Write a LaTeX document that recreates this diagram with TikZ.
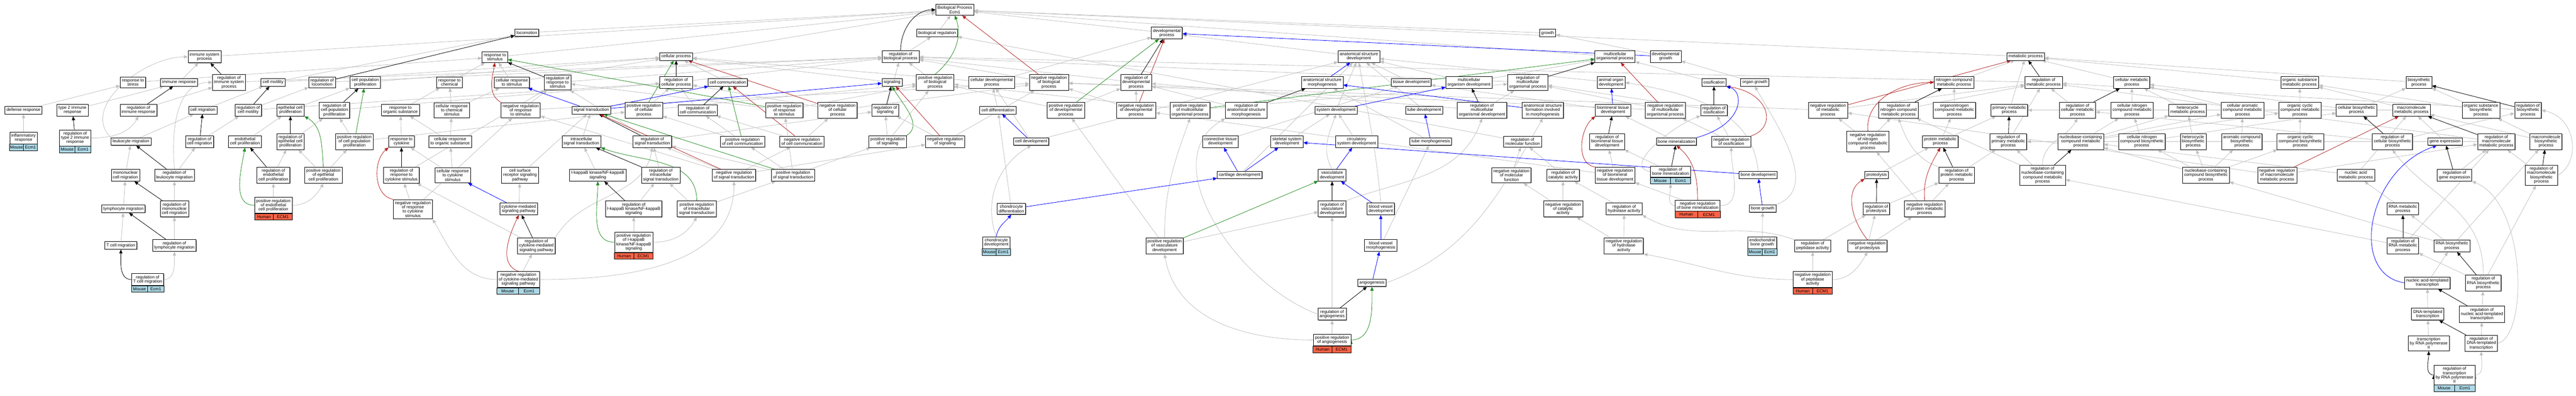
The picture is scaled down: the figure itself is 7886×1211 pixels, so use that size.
\documentclass[tikz,border=0pt]{standalone}
\usepackage{fontspec}
\setmainfont{Liberation Sans}
\usetikzlibrary{arrows.meta,calc,shadows,backgrounds}
\definecolor{isagrey}{RGB}{192,192,192}
\definecolor{posgreen}{RGB}{34,139,34}
\definecolor{negred}{RGB}{178,34,34}
\definecolor{partblue}{RGB}{0,0,255}
\definecolor{mouse}{RGB}{173,216,230}
\definecolor{human}{RGB}{255,99,71}
\tikzstyle{term}=[draw, line width=1.2pt, fill=white, align=center, inner xsep=5pt, inner ysep=5.5pt, minimum height=23pt, font=\fontsize{13}{13}\selectfont, drop shadow={shadow xshift=1.3pt, shadow yshift=-1.3pt, fill=black!45, opacity=1}]
\tikzstyle{cellbox}=[draw, line width=1.2pt]
\tikzstyle{celltext}=[font=\fontsize{13}{13}\selectfont, inner sep=0pt]
\tikzstyle{link}=[line width=1.3pt, -{Triangle[length=12pt,width=10pt]}]
\tikzstyle{isa}=[link, isagrey]
\tikzstyle{reg}=[link, black]
\tikzstyle{posreg}=[link, posgreen]
\tikzstyle{negreg}=[link, negred]
\tikzstyle{partof}=[link, partblue]
\newcommand{\term}{\node[term]}
\newcommand{\generow}[4]{%
  \draw[cellbox, fill=#4] (#1.south west) rectangle ([yshift=-20pt]#1.south);
  \draw[cellbox, fill=#4] (#1.south) rectangle ([yshift=-20pt]#1.south east);
  \node[celltext] at ($(#1.south west)!0.5!(#1.south)+(0,-10)$) {#2};
  \node[celltext] at ($(#1.south)!0.5!(#1.south east)+(0,-10)$) {#3};}

\begin{document}
\begin{tikzpicture}[x=1pt,y=1pt]
\useasboundingbox (0,0) rectangle (7886,-1211);

% top ranks
\term (root) at (2923,-30) {Biological Process\\Ecm1};
\term (bioreg) at (2869,-101) {biological regulation};
\term (locom) at (1613,-100) {locomotion};
\term (devproc) at (3572,-101) {developmental\\process};
\term (growth) at (4738,-101) {growth};
\term (immsys) at (626,-174) {immune system\\process};
\term (respstim) at (1515,-175) {response to\\stimulus};
\term (cellproc) at (2070,-173) {cellular process};
\term (regbio) at (2757,-173) {regulation of\\biological process};
\term (anatdev) at (4160,-173) {anatomical structure\\development};
\term (multiproc) at (4944,-173) {multicellular\\organismal process};
\term (devgrowth) at (5099,-173) {developmental\\growth};
\term (metab) at (6201,-173) {metabolic process};

% rank y=252
\term (respstress) at (407,-252) {response to\\stress};
\term (immresp) at (548,-252) {immune response};
\term (regimmsys) at (701,-252) {regulation of\\immune system\\process};
\term (motility) at (836,-252) {cell motility};
\term (reglocom) at (986,-252) {regulation of\\locomotion};
\term (cellprolif) at (1118,-252) {cell population\\proliferation};
\term (respchem) at (1376,-252) {response to\\chemical};
\term (cellrespstim) at (1567,-252) {cellular response\\to stimulus};
\term (regrespstim) at (1707,-252) {regulation of\\response to\\stimulus};
\term (regcellproc) at (2070,-252) {regulation of\\cellular process};
\term (cellcomm) at (2228,-252) {cell communication};
\term (signaling) at (2731,-252) {signaling};
\term (posregbio) at (2863,-252) {positive regulation\\of biological\\process};
\term (celldevproc) at (3036,-252) {cellular developmental\\process};
\term (negregbio) at (3211,-252) {negative regulation\\of biological\\process};
\term (regdev) at (3478,-252) {regulation of\\developmental\\process};
\term (anatmorph) at (4048,-252) {anatomical structure\\morphogenesis};
\term (tissuedev) at (4320,-252) {tissue development};
\term (multidev) at (4497,-252) {multicellular\\organism development};
\term (regmultiproc) at (4677,-252) {regulation of\\multicellular\\organismal process};
\term (organdev) at (4932,-252) {animal organ\\development};
\term (ossif) at (5247,-252) {ossification};
\term (organgrowth) at (5372,-252) {organ growth};
\term (nitromet) at (5982,-252) {nitrogen compound\\metabolic process};
\term (regmet) at (6256,-252) {regulation of\\metabolic process};
\term (cellmet) at (6526,-252) {cellular metabolic\\process};
\term (orgsubmet) at (7040,-252) {organic substance\\metabolic process};
\term (biosyn) at (7405,-252) {biosynthetic\\process};

% rank y=337
\term (defresp) at (72,-337) {defense response};
\term (type2) at (222,-337) {type 2 immune\\response};
\term (regimmresp) at (424,-337) {regulation of\\immune response};
\term (cellmig) at (621,-337) {cell migration};
\term (regmotility) at (760,-337) {regulation of\\cell motility};
\term (epiprolif) at (889,-337) {epithelial cell\\proliferation};
\term (regprolif) at (1024,-337) {regulation of\\cell population\\proliferation};
\term (resporg) at (1226,-337) {response to\\organic substance};
\term (cellrespchem) at (1383,-337) {cellular response\\to chemical\\stimulus};
\term (negregrespstim) at (1594,-337) {negative regulation\\of response\\to stimulus};
\term (sigtrans) at (1810,-337) {signal transduction};
\term (posregcellproc) at (1971,-337) {positive regulation\\of cellular\\process};
\term (regcellcomm) at (2136,-337) {regulation of\\cell communication};
\term (posregrespstim) at (2401,-337) {positive regulation\\of response\\to stimulus};
\term (negregcellproc) at (2564,-337) {negative regulation\\of cellular\\process};
\term (regsignaling) at (2710,-337) {regulation of\\signaling};
\term (celldiff) at (3055,-337) {cell differentiation};
\term (posregdev) at (3263,-337) {positive regulation\\of developmental\\process};
\term (negregdev) at (3478,-337) {negative regulation\\of developmental\\process};
\term (posregmulti) at (3643,-337) {positive regulation\\of multicellular\\organismal process};
\term (reganatmorph) at (3815,-337) {regulation of\\anatomical structure\\morphogenesis};
\term (sysdev) at (4090,-337) {system development};
\term (tubedev) at (4360,-337) {tube development};
\term (regmultidev) at (4537,-337) {regulation of\\multicellular\\organismal development};
\term (anatform) at (4723,-337) {anatomical structure\\formation involved\\in morphogenesis};
\term (biomin) at (4938,-337) {biomineral tissue\\development};
\term (negregmultiproc) at (5098,-337) {negative regulation\\of multicellular\\organismal process};
\term (regossif) at (5247,-337) {regulation of\\ossification};
\term (negregmet) at (5596,-337) {negative regulation\\of metabolic\\process};
\term (regnitromet) at (5812,-337) {regulation of\\nitrogen compound\\metabolic process};
\term (organonitro) at (5983,-337) {organonitrogen\\compound metabolic\\process};
\term (primmet) at (6151,-337) {primary metabolic\\process};
\term (regcellmet) at (6360,-337) {regulation of\\cellular metabolic\\process};
\term (cellnitromet) at (6527,-337) {cellular nitrogen\\compound metabolic\\process};
\term (heteromet) at (6697,-337) {heterocycle\\metabolic process};
\term (aromet) at (6865,-337) {cellular aromatic\\compound metabolic\\process};
\term (cyclicmet) at (7041,-337) {organic cyclic\\compound metabolic\\process};
\term (cellbiosyn) at (7214,-337) {cellular biosynthetic\\process};
\term (macromet) at (7382,-337) {macromolecule\\metabolic process};
\term (orgsubbiosyn) at (7595,-337) {organic substance\\biosynthetic\\process};
\term (regbiosyn) at (7739,-337) {regulation of\\biosynthetic\\process};

% rank y=433
\term (leukmig) at (401,-433) {leukocyte migration};
\term (regcellmig) at (611,-433) {regulation of\\cell migration};
\term (endoprolif) at (750,-433) {endothelial\\cell proliferation};
\term (regepiprolif) at (889,-433) {regulation of\\epithelial cell\\proliferation};
\term (posregprolif) at (1085,-433) {positive regulation\\of cell population\\proliferation};
\term (respcyto) at (1229,-433) {response to\\cytokine};
\term (cellresporg) at (1378,-433) {cellular response\\to organic substance};
\term (intrasig) at (1780,-433) {intracellular\\signal transduction};
\term (regsigtrans) at (1997,-433) {regulation of\\signal transduction};
\term (posregcellcomm) at (2273,-433) {positive regulation\\of cell communication};
\term (negregcellcomm) at (2455,-433) {negative regulation\\of cell communication};
\term (posregsignaling) at (2717,-433) {positive regulation\\of signaling};
\term (negregsignaling) at (2893,-433) {negative regulation\\of signaling};
\term (celldev) at (3157,-433) {cell development};
\term (conndev) at (3736,-433) {connective tissue\\development};
\term (skeldev) at (3940,-433) {skeletal system\\development};
\term (circdev) at (4153,-433) {circulatory\\system development};
\term (tubemorph) at (4380,-433) {tube morphogenesis};
\term (regmolfun) at (4661,-433) {regulation of\\molecular function};
\term (regbiomin) at (4920,-433) {regulation of\\biomineral tissue\\development};
\term (bonemin) at (5132,-433) {bone mineralization};
\term (negregossif) at (5300,-433) {negative regulation\\of ossification};
\term (negregnitromet) at (5718,-433) {negative regulation\\of nitrogen\\compound metabolic\\process};
\term (protmet) at (5940,-433) {protein metabolic\\process};
\term (regprimmet) at (6148,-433) {regulation of\\primary metabolic\\process};
\term (nucmet) at (6370,-433) {nucleobase-containing\\compound metabolic\\process};
\term (cellnitrobiosyn) at (6557,-433) {cellular nitrogen\\compound biosynthetic\\process};
\term (heterobiosyn) at (6714,-433) {heterocycle\\biosynthetic\\process};
\term (arobiosyn) at (6863,-433) {aromatic compound\\biosynthetic\\process};
\term (cyclicbiosyn) at (7042,-433) {organic cyclic\\compound biosynthetic\\process};
\term (regcellbiosyn) at (7324,-433) {regulation of\\cellular biosynthetic\\process};
\term (geneexp) at (7485,-433) {gene expression};
\term (regmacromet) at (7642,-433) {regulation of\\macromolecule\\metabolic process};
\term (macrobiosyn) at (7794,-433) {macromolecule\\biosynthetic\\process};

% rank y=536
\term (mononucmig) at (384,-536) {mononuclear\\cell migration};
\term (regleukmig) at (534,-536) {regulation of\\leukocyte migration};
\term (regendoprolif) at (837,-536) {regulation of\\endothelial\\cell proliferation};
\term (posregepiprolif) at (990,-536) {positive regulation\\of epithelial\\cell proliferation};
\term (regrespcyto) at (1229,-536) {regulation of\\response to\\cytokine stimulus};
\term (cellrespcyto) at (1386,-536) {cellular response\\to cytokine\\stimulus};
\term (cellsurf) at (1592,-536) {cell surface\\receptor signaling\\pathway};
\term (ikk) at (1830,-536) {I-kappaB kinase/NF-kappaB\\signaling};
\term (regintrasig) at (2023,-536) {regulation of\\intracellular\\signal transduction};
\term (negregsigtrans) at (2247,-536) {negative regulation\\of signal transduction};
\term (posregsigtrans) at (2428,-536) {positive regulation\\of signal transduction};
\term (cartdev) at (3795,-535) {cartilage development};
\term (vascdev) at (4078,-536) {vasculature\\development};
\term (negregmolfun) at (4627,-536) {negative regulation\\of molecular\\function};
\term (regcatal) at (4785,-536) {regulation of\\catalytic activity};
\term (negregbiomin) at (4944,-536) {negative regulation\\of biomineral\\tissue development};
\term (bonedev) at (5382,-535) {bone development};
\term (proteolysis) at (5745,-535) {proteolysis};
\term (regprotmet) at (5990,-536) {regulation of\\protein metabolic\\process};
\term (regnucmet) at (6253,-536) {regulation of\\nucleobase-containing\\compound metabolic\\process};
\term (nucbiosyn) at (6753,-536) {nucleobase-containing\\compound biosynthetic\\process};
\term (negregmacromet) at (6971,-536) {negative regulation\\of macromolecule\\metabolic process};
\term (nucacidmet) at (7212,-536) {nucleic acid\\metabolic process};
\term (regexp) at (7514,-536) {regulation of\\gene expression};
\term (regmacrobiosyn) at (7780,-536) {regulation of\\macromolecule\\biosynthetic\\process};

% rank y=639
\term (lymphmig) at (378,-639) {lymphocyte migration};
\term (regmononucmig) at (534,-639) {regulation of\\mononuclear\\cell migration};
\term (negregrespcyto) at (1264,-640) {negative regulation\\of response\\to cytokine\\stimulus};
\term (cytosig) at (1588,-639) {cytokine-mediated\\signaling pathway};
\term (regikk) at (1940,-639) {regulation of\\I-kappaB kinase/NF-kappaB\\signaling};
\term (posregintrasig) at (2133,-639) {positive regulation\\of intracellular\\signal transduction};
\term (chondiff) at (3096,-639) {chondrocyte\\differentiation};
\term (regvascdev) at (4078,-639) {regulation of\\vasculature\\development};
\term (bvdev) at (4227,-639) {blood vessel\\development};
\term (negregcatal) at (4785,-639) {negative regulation\\of catalytic\\activity};
\term (reghydro) at (4972,-639) {regulation of\\hydrolase activity};
\term (bonegrowth) at (5396,-638) {bone growth};
\term (regproteolysis) at (5744,-639) {regulation of\\proteolysis};
\term (negregprotmet) at (5892,-639) {negative regulation\\of protein metabolic\\process};
\term (rnamet) at (7356,-639) {RNA metabolic\\process};

% rank y=752 and below
\term (tcellmig) at (370,-751) {T cell migration};
\term (reglymphmig) at (534,-751) {regulation of\\lymphocyte migration};
\term (regcytosig) at (1642,-752) {regulation of\\cytokine-mediated\\signaling pathway};
\term (posregvascdev) at (3565,-752) {positive regulation\\of vasculature\\development};
\term (bvmorph) at (4227,-751) {blood vessel\\morphogenesis};
\term (negreghydro) at (4971,-752) {negative regulation\\of hydrolase\\activity};
\term (regpeptid) at (5549,-752) {regulation of\\peptidase activity};
\term (negregproteolysis) at (5717,-752) {negative regulation\\of proteolysis};
\term (regrnamet) at (7356,-752) {regulation of\\RNA metabolic\\process};
\term (rnabiosyn) at (7506,-752) {RNA biosynthetic\\process};
\term (angio) at (4200,-865) {angiogenesis};
\term (natrans) at (7431,-865) {nucleic acid-templated\\transcription};
\term (regrnabiosyn) at (7602,-866) {regulation of\\RNA biosynthetic\\process};
\term (regangio) at (4078,-961) {regulation of\\angiogenesis};
\term (dnatrans) at (7432,-961) {DNA-templated\\transcription};
\term (regnatrans) at (7598,-961) {regulation of\\nucleic acid-templated\\transcription};
\term (polII) at (7435,-1050) {transcription\\by RNA polymerase\\II};
\term (regdnatrans) at (7596,-1050) {regulation of\\DNA-templated\\transcription};

% annotated terms
\term (inflam) at (72,-422) {inflammatory\\response};
\generow{inflam}{Mouse}{Ecm1}{mouse}
\term (regtype2) at (230,-422) {regulation of\\type 2 immune\\response};
\generow{regtype2}{Mouse}{Ecm1}{mouse}
\term (regtcellmig) at (452,-855) {regulation of\\T cell migration};
\generow{regtcellmig}{Mouse}{Ecm1}{mouse}
\term (posregendoprolif) at (837,-628) {positive regulation\\of endothelial\\cell proliferation};
\generow{posregendoprolif}{Human}{ECM1}{human}
\term (posregikk) at (1940,-741) {positive regulation\\of I-kappaB\\kinase/NF-kappaB\\signaling};
\generow{posregikk}{Human}{ECM1}{human}
\term (negregcytosig) at (1587,-855) {negative regulation\\of cytokine-mediated\\signaling pathway};
\generow{negregcytosig}{Mouse}{Ecm1}{mouse}
\term (chondev) at (3050,-742) {chondrocyte\\development};
\generow{chondev}{Mouse}{Ecm1}{mouse}
\term (posregangio) at (4078,-1040) {positive regulation\\of angiogenesis};
\generow{posregangio}{Human}{ECM1}{human}
\term (regbonemin) at (5114,-525) {regulation of\\bone mineralization};
\generow{regbonemin}{Mouse}{Ecm1}{mouse}
\term (negregbonemin) at (5197,-629) {negative regulation\\of bone mineralization};
\generow{negregbonemin}{Human}{ECM1}{human}
\term (endobonegrowth) at (5395,-742) {endochondral\\bone growth};
\generow{endobonegrowth}{Mouse}{Ecm1}{mouse}
\term (negregpeptid) at (5549,-855) {negative regulation\\of peptidase\\activity};
\generow{negregpeptid}{Human}{ECM1}{human}
\term (regpolII) at (7514,-1147) {regulation of\\transcription\\by RNA polymerase\\II};
\generow{regpolII}{Mouse}{Ecm1}{mouse}

\begin{pgfonlayer}{background}
% is_a
\draw[isa] (inflam) edge (defresp) (defresp) edge (respstress) (type2) edge (immresp)
 (regtype2.east) edge[out=0,in=-120] (regimmresp.south) (immresp) edge (immsys)
 (regimmresp) edge (regimmsys) (respstress) edge (respstim) (immsys) edge (root)
 (leukmig.north west) edge[out=135,in=180] (immsys.west) (leukmig) edge (cellmig)
 (mononucmig) edge (leukmig) (lymphmig) edge (mononucmig) (tcellmig) edge (lymphmig)
 (regleukmig) edge (regcellmig) (regleukmig.north) edge[out=95,in=180] (regimmsys.west)
 (regmononucmig) edge (regleukmig) (reglymphmig) edge (regmononucmig)
 (regtcellmig.east) edge[out=0,in=-90] (reglymphmig.south) (regimmsys) edge (regbio)
 (cellmig) edge (motility) (regcellmig) edge (regmotility) (motility) edge (locom)
 (motility) edge (cellproc) (regmotility) edge (reglocom) (regmotility) edge (regcellproc)
 (reglocom) edge (regbio) (locom) edge (root) (epiprolif) edge (cellprolif)
 (endoprolif) edge (epiprolif) (regepiprolif) edge (regprolif) (regendoprolif) edge (regepiprolif)
 (posregepiprolif) edge (regepiprolif) (posregepiprolif) edge (posregprolif)
 (posregendoprolif) edge (regendoprolif) (posregendoprolif.east) edge[out=0,in=-120] (posregepiprolif.south)
 (posregprolif) edge (regprolif) (posregprolif) edge (posregcellproc) (regprolif) edge (regcellproc)
 (cellprolif) edge (cellproc) (resporg) edge (respchem) (respcyto) edge (resporg)
 (regrespcyto) edge (regrespstim) (negregrespcyto) edge (regrespcyto) (negregrespcyto) edge (negregrespstim)
 (cellrespcyto) edge (respcyto) (cellrespcyto) edge (cellresporg) (cellresporg) edge (resporg)
 (cellresporg) edge (cellrespchem) (cellrespchem) edge (respchem) (cellrespchem) edge (cellrespstim)
 (respchem) edge (respstim) (cellrespstim) edge (respstim) (cellrespstim) edge (cellproc)
 (regrespstim) edge (regbio) (negregrespstim) edge (regrespstim) (negregrespstim) edge (negregbio)
 (intrasig) edge (sigtrans) (ikk) edge (intrasig) (regikk) edge (regintrasig) (posregikk) edge (regikk)
 (posregikk.east) edge[out=0,in=-120] (posregintrasig.south) (cellsurf) edge (sigtrans) (cytosig) edge (cellsurf)
 (regcytosig) edge (regrespcyto) (regcytosig.north east) edge[out=60,in=-100] (regsigtrans.south)
 (negregcytosig) edge (regcytosig) (negregcytosig.west) edge[out=180,in=-60] (negregrespcyto.south east)
 (negregcytosig.east) edge[out=0,in=-90] (negregsigtrans.south)
 (regsigtrans) edge (regsignaling) (regsigtrans) edge (regrespstim) (regintrasig) edge (regsigtrans)
 (posregintrasig) edge (regintrasig) (posregintrasig) edge (posregsigtrans)
 (negregsigtrans) edge (regsigtrans) (negregsigtrans) edge (negregcellcomm) (negregsigtrans) edge (negregsignaling)
 (negregsigtrans) edge (negregrespstim) (posregsigtrans) edge (regsigtrans) (posregsigtrans) edge (posregcellcomm)
 (posregsigtrans) edge (posregsignaling) (posregsigtrans) edge (posregrespstim)
 (regcellcomm) edge (regcellproc) (posregcellcomm) edge (regcellcomm) (posregcellcomm) edge (posregcellproc)
 (negregcellcomm) edge (regcellcomm) (negregcellcomm) edge (negregcellproc) (cellcomm) edge (cellproc)
 (regcellproc) edge (regbio) (posregcellproc) edge (regcellproc) (posregcellproc) edge (posregbio)
 (negregcellproc) edge (regcellproc) (negregcellproc) edge (negregbio)
 (posregrespstim) edge (regrespstim) (posregrespstim) edge (posregbio)
 (cellproc) edge (root) (respstim) edge (root) (bioreg) edge (root) (regbio) edge (bioreg)
 (posregbio) edge (regbio) (negregbio) edge (regbio) (signaling) edge (cellproc)
 (regsignaling) edge (regbio) (posregsignaling) edge (regsignaling) (posregsignaling) edge (posregbio)
 (negregsignaling) edge (regsignaling) (negregsignaling) edge (negregbio)
 (celldevproc) edge (devproc) (celldevproc) edge (cellproc) (celldiff) edge (celldevproc)
 (celldev) edge (celldevproc) (celldev) edge (anatdev) (chondiff) edge (celldiff)
 (chondev.north) edge[out=110,in=-150] (celldev.south)
 (posregdev) edge (regdev) (posregdev) edge (posregbio) (regdev) edge (regbio)
 (negregdev) edge (regdev) (negregdev) edge (negregbio) (devproc) edge (root)
 (posregmulti) edge (regmultiproc) (posregmulti) edge (posregbio) (reganatmorph) edge (regdev)
 (conndev) edge (tissuedev) (skeldev) edge (sysdev) (cartdev) edge (anatdev)
 (posregvascdev) edge (regvascdev) (posregvascdev.north) edge[out=90,in=-110] (posregmulti.south)
 (posregvascdev) edge (posregdev) (posregangio.west) edge[out=180,in=-80] (posregvascdev.south)
 (posregangio) edge (regangio) (regangio) edge (regvascdev) (regangio.west) edge[out=160,in=-150] (reganatmorph.south west)
 (angio.east) edge[out=20,in=-120] (anatform.south) (bvmorph) edge (tubemorph)
 (bvdev.north) edge[out=95,in=-80] (anatdev.south) (vascdev.north) edge[out=120,in=-110] (sysdev.south)
 (regvascdev.north east) edge[out=20,in=-110] (regmultidev.south) (circdev) edge (sysdev)
 (sysdev) edge (anatdev) (tubemorph) edge (anatmorph) (tubedev) edge (anatdev) (tissuedev) edge (anatdev)
 (multidev) edge (anatdev) (multidev) edge (multiproc) (anatdev) edge (devproc)
 (regmultidev) edge (regdev) (regmultidev) edge (regmultiproc) (regmultiproc) edge (regbio)
 (negregmultiproc) edge (regmultiproc) (negregmultiproc) edge (negregbio) (organdev) edge (anatdev)
 (biomin) edge (tissuedev) (negregbiomin) edge (regbiomin) (negregbiomin) edge (negregdev)
 (bonemin) edge (biomin) (regbonemin) edge (regbiomin)
 (regbonemin.west) edge[out=170,in=-160] (regossif.south west)
 (negregbonemin.west) edge[out=180,in=-90] ([yshift=-20pt]regbonemin.south)
 (negregbonemin) edge (negregbiomin) (negregbonemin.east) edge[out=0,in=-90] (negregossif.south)
 (regossif) edge (regmultiproc) (negregossif) edge (regossif) (negregossif) edge (negregmultiproc)
 (ossif) edge (multiproc) (bonedev.north) edge[out=95,in=-10] (organdev.east)
 (bonegrowth.north east) edge[out=20,in=-60] (organgrowth.south) (endobonegrowth) edge (bonegrowth)
 (organgrowth) edge (devgrowth) (devgrowth) edge (growth) (growth) edge (root) (multiproc) edge (root)
 (regmolfun) edge (bioreg) (negregmolfun) edge (regmolfun) (regcatal) edge (regmolfun)
 (negregcatal) edge (regcatal) (negregcatal) edge (negregmolfun) (reghydro) edge (regcatal)
 (negreghydro) edge (reghydro) (negreghydro) edge (negregcatal)
 (regpeptid.north west) edge[out=160,in=-30] (reghydro.south east) (regpeptid) edge (regproteolysis)
 (negregpeptid) edge (regpeptid) (negregpeptid.east) edge[out=0,in=-120] (negregproteolysis.south)
 (negregpeptid.west) edge[out=180,in=-10] (negreghydro.south east)
 (regproteolysis) edge (regprotmet) (negregproteolysis) edge (regproteolysis) (negregproteolysis) edge (negregprotmet)
 (proteolysis) edge (protmet) (negregprotmet) edge (regprotmet) (negregprotmet) edge (negregnitromet)
 (regprotmet) edge (regprimmet) (regprotmet.north west) edge[out=160,in=-70] (regnitromet.south)
 (protmet) edge (primmet) (protmet) edge (organonitro)
 (negregnitromet) edge (negregmet) (negregnitromet) edge (regnitromet) (regnitromet) edge (regmet)
 (negregmet) edge (regmet) (negregmet) edge (negregbio) (organonitro) edge (nitromet) (nitromet) edge (metab)
 (regmet) edge (regbio) (primmet) edge (metab) (regprimmet) edge (regmet) (regcellmet) edge (regmet)
 (cellnitromet) edge (cellmet) (cellmet) edge (metab) (nucmet) edge (cellnitromet) (nucmet) edge (heteromet)
 (nucmet) edge (aromet) (nucmet) edge (cyclicmet) (regnucmet.north) edge[out=90,in=-120] (regcellmet.south)
 (regnucmet) edge (regprimmet) (regnucmet) edge (regnitromet)
 (cellnitrobiosyn) edge (cellnitromet) (cellnitrobiosyn) edge (cellbiosyn) (heterobiosyn) edge (heteromet)
 (arobiosyn) edge (aromet) (cyclicbiosyn) edge (cyclicmet) (nucbiosyn) edge (heterobiosyn)
 (nucbiosyn) edge (arobiosyn) (nucbiosyn) edge (cyclicbiosyn) (nucbiosyn) edge (cellnitrobiosyn)
 (nucbiosyn) edge (nucmet) (cyclicmet) edge (orgsubmet) (heteromet) edge (cellmet) (aromet) edge (cellmet)
 (orgsubmet) edge (metab) (negregmacromet) edge (negregmet) (negregmacromet) edge (regmacromet)
 (nucacidmet) edge (nucmet) (nucacidmet) edge (macromet) (cellbiosyn) edge (biosyn) (cellbiosyn) edge (cellmet)
 (biosyn) edge (metab) (macromet) edge (orgsubmet) (macromet) edge (primmet)
 (orgsubbiosyn) edge (biosyn) (orgsubbiosyn) edge (orgsubmet) (regbiosyn) edge (regmet)
 (regcellbiosyn) edge (regbiosyn) (regcellbiosyn) edge (regcellmet) (geneexp) edge (macromet)
 (regexp) edge (regmacromet) (regmacromet) edge (regmet) (regmacromet) edge (regprimmet)
 (macrobiosyn) edge (macromet) (macrobiosyn) edge (orgsubbiosyn) (regmacrobiosyn) edge (regmacromet)
 (rnamet) edge (nucacidmet) (regrnamet) edge (regmacromet) (regrnamet) edge (regnucmet)
 (rnabiosyn) edge (rnamet) (rnabiosyn) edge (macrobiosyn) (rnabiosyn) edge (nucbiosyn)
 (regrnabiosyn) edge (regrnamet) (regrnabiosyn) edge (regmacrobiosyn) (natrans) edge (rnabiosyn)
 (regnatrans) edge (regrnabiosyn) (dnatrans) edge (natrans) (regdnatrans) edge (regnatrans)
 (polII) edge (dnatrans) (regpolII.east) edge[out=0,in=-90] (regdnatrans.south) (metab) edge (root);
\draw[isa] (regmacrobiosyn.east) .. controls (7900,-500) and (7890,-360) .. (regbiosyn.east);
\draw[isa] (regrnabiosyn.north) .. controls (7605,-640) and (7430,-600) .. (regcellbiosyn.south);
\draw[isa] (regdnatrans.east) .. controls (7740,-1030) and (7735,-620) .. (regexp.south east);

% regulates
\draw[reg] (regtype2) edge (type2) (regimmresp) edge (immresp) (regimmsys) edge (immsys)
 (regleukmig) edge (leukmig) (regcellmig) edge (cellmig) (regmononucmig) edge (mononucmig)
 (reglymphmig) edge (lymphmig) (regtcellmig.west) edge[out=180,in=-90] (tcellmig.south)
 (regmotility) edge (motility) (reglocom) edge (locom) (regepiprolif) edge (epiprolif)
 (regprolif) edge (cellprolif) (regendoprolif) edge (endoprolif) (regrespcyto) edge (respcyto)
 (regrespstim) edge (respstim) (regsigtrans) edge (sigtrans) (regintrasig) edge (intrasig)
 (regikk) edge (ikk) (regcytosig) edge (cytosig) (regcellcomm) edge (cellcomm)
 (regcellproc) edge (cellproc) (regbio.north) edge[out=90,in=180] (root.west)
 (regsignaling) edge (signaling) (regdev) edge (devproc) (reganatmorph) edge (anatmorph)
 (regvascdev) edge (vascdev) (regangio) edge (angio) (regmultidev) edge (multidev)
 (regmultiproc) edge (multiproc) (regbiomin) edge (biomin) (regbonemin) edge (bonemin)
 (regossif) edge (ossif) (regproteolysis) edge (proteolysis) (regprotmet) edge (protmet)
 (regnitromet) edge (nitromet) (regmet) edge (metab) (regprimmet) edge (primmet)
 (regcellmet) edge (cellmet) (regnucmet) edge (nucmet) (regbiosyn) edge (biosyn)
 (regcellbiosyn) edge (cellbiosyn) (regexp) edge (geneexp) (regmacromet) edge (macromet)
 (regmacrobiosyn) edge (macrobiosyn) (regrnamet) edge (rnamet) (regrnabiosyn) edge (rnabiosyn)
 (regnatrans) edge (natrans) (regdnatrans) edge (dnatrans) (regpolII.west) edge[out=180,in=-90] (polII.south);

% positively regulates
\draw[posreg] (posregprolif) edge (cellprolif)
 (posregepiprolif.north) edge[out=95,in=-30] (epiprolif.south east)
 (posregendoprolif.west) edge[out=180,in=-100] (endoprolif.south)
 (posregikk.west) edge[out=180,in=-90] (ikk.south)
 (posregintrasig.north) edge[out=90,in=-20] (intrasig.south east)
 (posregsigtrans) edge (sigtrans) (posregcellcomm) edge (cellcomm) (posregcellproc) edge (cellproc)
 (posregrespstim) edge (respstim) (posregbio.north) edge[out=40,in=-70] (root.south)
 (posregsignaling.north east) edge[out=30,in=-60] (signaling.south) (posregdev) edge (devproc)
 (posregmulti) edge (multiproc) (posregvascdev) edge (vascdev)
 (posregangio.east) edge[out=0,in=-90] (angio.south);

% negatively regulates
\draw[negreg] (negregrespcyto.north west) edge[out=170,in=-140] (respcyto.south west)
 (negregrespstim.north west) edge[out=150,in=-100] (respstim.south)
 (negregcytosig.north) edge[out=160,in=-115] (cytosig.south)
 (negregsigtrans) edge (sigtrans) (negregcellcomm) edge (cellcomm) (negregcellproc) edge (cellproc)
 (negregbio) edge (root) (negregsignaling) edge (signaling) (negregdev) edge (devproc)
 (negregmultiproc) edge (multiproc) (negregbiomin.north west) edge[out=170,in=-140] (biomin.south west)
 (negregbonemin.north) edge[out=90,in=-40] (bonemin.south)
 (negregproteolysis.north) edge[out=130,in=-150] (proteolysis.south west)
 (negregprotmet.north) edge[out=95,in=-120] (protmet.south)
 (negregnitromet.north) edge[out=95,in=180] (nitromet.west)
 (negregmet) edge (metab) (negregmacromet) edge (macromet);
\draw[negreg] (negregossif.north east) .. controls (5440,-390) and (5420,-285) .. (ossif.south east);

% part_of
\draw[partof] (sigtrans) edge (cellrespstim) (sigtrans) edge (cellcomm) (sigtrans) edge (signaling)
 (cytosig) edge (cellrespcyto) (celldev) edge (celldiff)
 (chondev.north) edge[out=80,in=-130] (chondiff.south) (chondiff) edge (cartdev)
 (cartdev) edge (conndev) (cartdev) edge (skeldev) (anatmorph) edge (anatdev) (sysdev) edge (multidev)
 (tubemorph) edge (tubedev) (vascdev) edge (circdev) (bvdev) edge (vascdev) (bvmorph) edge (bvdev)
 (angio) edge (bvmorph) (anatform) edge (anatmorph) (devgrowth) edge (devproc) (biomin) edge (organdev)
 (bonedev) edge (skeldev) (bonegrowth) edge (bonedev);
\draw[partof] (bonemin.north east) .. controls (5340,-380) and (5340,-280) .. (ossif.south east);
\draw[partof] (natrans.west) .. controls (7190,-840) and (7245,-520) .. ([xshift=-25pt]geneexp.south);
\end{pgfonlayer}
\end{tikzpicture}
\end{document}
